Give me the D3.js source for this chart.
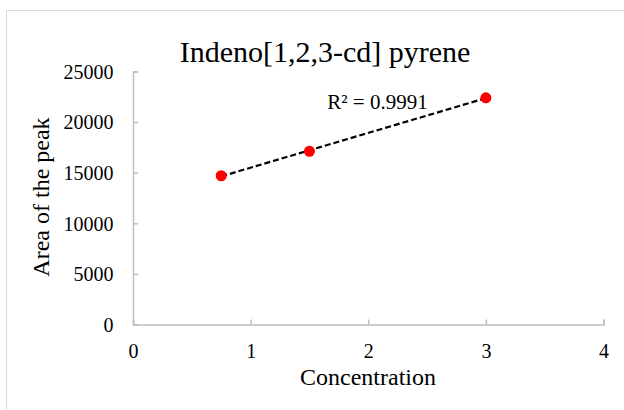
<!DOCTYPE html>
<html><head><meta charset="utf-8">
<script src="https://cdn.jsdelivr.net/npm/d3@7"></script>
<style>body{margin:0;background:#fff}svg{display:block}text{font-family:"Liberation Serif","Times New Roman",serif;fill:#000}</style>
</head><body>
<script>
const concentration = [0.75, 1.5, 3];
const peakArea = [14700, 17120, 22400];
const xTicks = [0, 1, 2, 3, 4];
const yTicks = [0, 5000, 10000, 15000, 20000, 25000];
const title = "Indeno[1,2,3-cd] pyrene";
const xTitle = "Concentration";
const yTitle = "Area of the peak";

const W = 624, H = 410;
const svg = d3.select("body").append("svg").attr("width", W).attr("height", H);
svg.append("rect").attr("x", 6.5).attr("y", 10.5).attr("width", W).attr("height", H)
  .attr("fill", "#fff").attr("stroke", "#d9d9d9").attr("stroke-width", 1);

const m = {l: 133, r: 603.5, t: 71.5, b: 324.5};
const x = d3.scaleLinear().domain([0, 4]).range([m.l, m.r]);
const y = d3.scaleLinear().domain([0, 25000]).range([m.b, m.t]);

const xAxis = svg.append("g").attr("transform", `translate(0,${m.b})`)
  .call(d3.axisBottom(x).tickValues(xTicks).tickSize(-5).tickFormat(d3.format("d")));
const yAxis = svg.append("g").attr("transform", `translate(${m.l},0)`)
  .call(d3.axisLeft(y).tickValues(yTicks).tickSize(-5).tickFormat(d3.format("d")));
[xAxis, yAxis].forEach(a => {
  a.attr("font-size", 20).attr("font-family", "'Liberation Serif', 'Times New Roman', serif");
  a.select(".domain").attr("stroke", "#bfbfbf").attr("stroke-width", 1.5);
  a.selectAll(".tick line").attr("stroke", "#bfbfbf").attr("stroke-width", 1.5);
  a.selectAll(".tick text").attr("font-size", 20).attr("fill", "#000");
});
xAxis.selectAll(".tick text").attr("y", 33).attr("dy", 0);
yAxis.selectAll(".tick text").attr("x", -19.5).attr("dy", "0.34em");

// linear trendline from data
const mx = d3.mean(concentration), my = d3.mean(peakArea);
let sxy = 0, sxx = 0;
concentration.forEach((c, i) => { sxy += (c - mx) * (peakArea[i] - my); sxx += (c - mx) ** 2; });
const slope = sxy / sxx, icpt = my - slope * mx;
const x0 = d3.min(concentration), x1 = d3.max(concentration);
svg.append("line")
  .attr("x1", x(x0)).attr("y1", y(icpt + slope * x0))
  .attr("x2", x(x1)).attr("y2", y(icpt + slope * x1))
  .attr("stroke", "#000").attr("stroke-width", 2.2).attr("stroke-dasharray", "6,3");

svg.selectAll("circle.pt").data(concentration).join("circle").attr("class", "pt")
  .attr("cx", d => x(d)).attr("cy", (d, i) => y(peakArea[i])).attr("r", 5.5).attr("fill", "#ff0000");

svg.append("text").attr("x", 377.5).attr("y", 108.5).attr("text-anchor", "middle")
  .attr("font-size", 21).text("R² = 0.9991");

svg.append("text").attr("x", 325).attr("y", 62).attr("text-anchor", "middle")
  .attr("font-size", 30).text(title);
svg.append("text").attr("x", 368).attr("y", 385).attr("text-anchor", "middle")
  .attr("font-size", 24).text(xTitle);
svg.append("text").attr("transform", "translate(48.5,197) rotate(-90)").attr("text-anchor", "middle")
  .attr("font-size", 24).text(yTitle);
</script>
</body></html>
